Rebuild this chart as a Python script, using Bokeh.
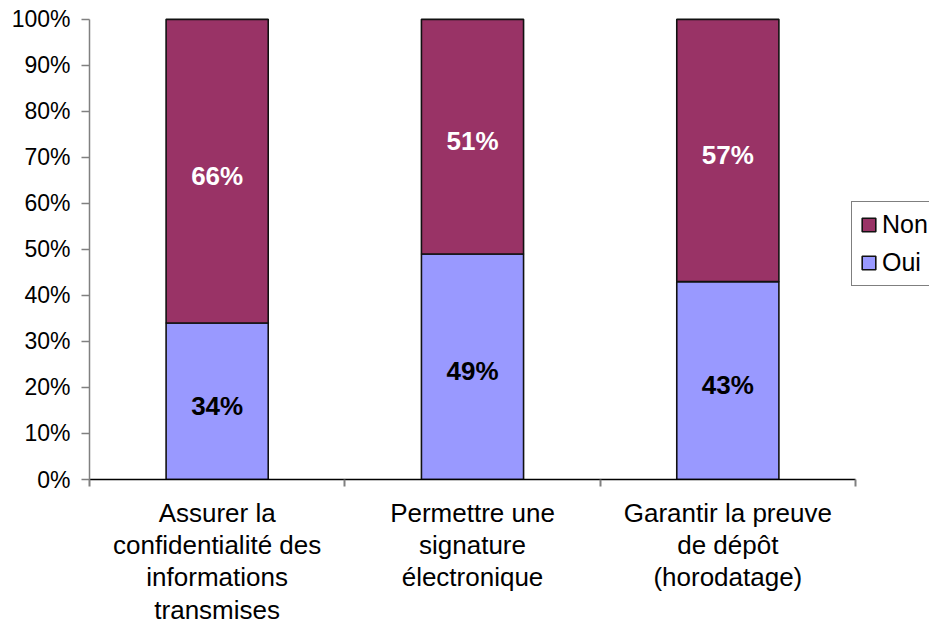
from bokeh.plotting import figure
from bokeh.models import (ColumnDataSource, Range1d, LinearAxis, FixedTicker,
                          Legend, LegendItem)
from bokeh.core.properties import value
from bokeh.embed import file_html
from bokeh.resources import INLINE

categories = ["Assurer la\nconfidentialité des\ninformations\ntransmises",
              "Permettre une\nsignature\nélectronique",
              "Garantir la preuve\nde dépôt\n(horodatage)"]
oui = [34, 49, 43]
non = [66, 51, 57]
series = ["Oui", "Non"]
colors = ["#9999FF", "#993366"]
y_ticks = list(range(0, 101, 10))

FONT = "Liberation Sans"

W, H = 929, 627
LEFT, TOP, BOTTOM = 89, 17, 148
PLOT_W = 766          # width of the category area in px
FRAME_W = W - LEFT    # frame runs to the right edge (legend lives there)
n = len(categories)

xs = [i + 0.5 for i in range(n)]
source = ColumnDataSource(dict(x=xs, Oui=oui, Non=non))

p = figure(width=W, height=H, output_backend="svg", toolbar_location=None,
           x_range=Range1d(0, n * FRAME_W / PLOT_W), y_range=Range1d(0, 100.4),
           x_axis_location=None, y_axis_location=None,
           min_border_left=LEFT, min_border_right=0, min_border_top=TOP,
           min_border_bottom=BOTTOM)
p.outline_line_color = None
p.xgrid.visible = False
p.ygrid.visible = False
p.background_fill_color = "white"
p.border_fill_color = "white"

rs = p.vbar_stack(series, x="x", width=0.4, color=colors, line_color="#111111",
                  line_width=1.6, source=source)

# data labels
lab_x, lab_y, lab_t, lab_c = [], [], [], []
for i in range(n):
    lab_x += [xs[i], xs[i]]
    lab_y += [oui[i] / 2 - 1, oui[i] + non[i] / 2 - 1]
    lab_t += [f"{oui[i]}%", f"{non[i]}%"]
    lab_c += ["black", "white"]
p.text(x=lab_x, y=lab_y, text=lab_t, text_color=lab_c, text_align="center",
       text_baseline="middle", text_font=value(FONT), text_font_size="26px",
       text_font_style="bold")

# y axis
yax = LinearAxis(ticker=FixedTicker(ticks=y_ticks), bounds=(0, 100),
                 major_label_overrides={t: f"{t}%" for t in y_ticks})
yax.axis_line_color = "#808080"
yax.axis_line_width = 1.5
yax.major_tick_line_color = "#808080"
yax.major_tick_line_width = 1.5
yax.major_tick_in = 0
yax.major_tick_out = 8
yax.minor_tick_line_color = None
yax.major_label_text_font = FONT
yax.major_label_text_font_size = "23px"
yax.major_label_text_color = "black"
yax.major_label_standoff = 11
p.add_layout(yax, "left")

# x axis: labels at centres, boundary ticks as minor ticks
xax = LinearAxis(ticker=FixedTicker(ticks=xs, minor_ticks=list(range(n + 1))),
                 bounds=(0, n),
                 major_label_overrides={x: c for x, c in zip(xs, categories)})
xax.axis_line_color = "black"
xax.axis_line_width = 1.5
xax.major_tick_line_color = None
xax.major_tick_in = 0
xax.major_tick_out = 0
xax.minor_tick_line_color = "#808080"
xax.minor_tick_line_width = 2
xax.minor_tick_in = 0
xax.minor_tick_out = 7
xax.major_label_text_font = FONT
xax.major_label_text_font_size = "26px"
xax.major_label_text_color = "black"
xax.major_label_text_line_height = 1.08
xax.major_label_standoff = 11
p.add_layout(xax, "below")

legend = Legend(items=[LegendItem(label="Non", renderers=[rs[1]]),
                       LegendItem(label="Oui", renderers=[rs[0]])],
                location=(851 - LEFT, 479 - 286), orientation="vertical")
legend.border_line_color = "black"
legend.border_line_width = 1
legend.background_fill_color = "white"
legend.label_text_font = FONT
legend.label_text_font_size = "25px"
legend.label_text_color = "black"
legend.glyph_width = 17
legend.glyph_height = 17
legend.label_standoff = 5
legend.label_height = 26
legend.spacing = 9
legend.padding = 8
legend.margin = 0
p.add_layout(legend, "center")

open("out.html", "w").write(file_html(p, INLINE))
